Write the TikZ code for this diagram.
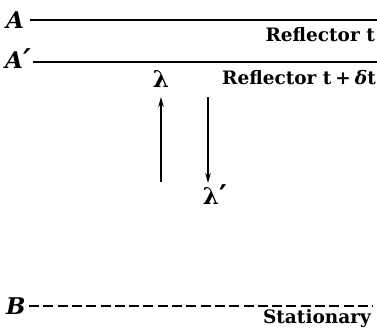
\documentclass[tikz,border=0pt]{standalone}
\usepackage{fontspec}
\setmainfont{DejaVu Serif}
\usetikzlibrary{arrows.meta}
\tikzset{
  lbl/.style={inner sep=0pt, font=\bfseries\fontsize{18.5}{18.5}\selectfont},
  ptlbl/.style={inner sep=0pt, font=\bfseries\itshape\fontsize{23}{23}\selectfont},
  lam/.style={inner sep=0pt, font=\bfseries\fontsize{23}{23}\selectfont},
  refl/.style={line width=1.4pt},
  wave/.style={line width=1.4pt, -{Stealth[length=10pt,width=5.5pt]}},
}
\newcommand{\bigprime}{{\fontsize{30}{30}\selectfont\raisebox{-2pt}{′}}}
\begin{document}
\begin{tikzpicture}[x=1pt,y=-1pt]
\useasboundingbox (0,0) rectangle (377,327);
% labels of the lines
\node[ptlbl, anchor=base west] (A) at (6,28) {A};
\node[ptlbl, anchor=base west] (Ap) at (5,68) {A\bigprime};
\node[ptlbl, anchor=base west] (B) at (6,314) {B};
\coordinate (Aend) at (377,20);
\coordinate (Apend) at (377,62);
\coordinate (Bend) at (373,306);
\draw[refl] (30,20) -- (Aend);
\draw[refl] (33,62) -- (Apend);
\draw[line width=1.4pt, dash pattern=on 10pt off 4.3pt] (29,306) -- (Bend);
% reflector labels
\node[lbl, anchor=base east] (rt) at (375,41) {Reflector t};
\node[lbl, anchor=base east] (rdt) at (376,84) {Reflector t\hspace{4pt}+\hspace{4pt}{\itshape δ}t};
\node[lbl, anchor=base east] (st) at (371,323) {Stationary};
% wavelengths
\node[lam] (l1) at (161,79) {λ};
\node[lam] (l2) at (215,196) {λ\bigprime};
\coordinate (u0) at (161,182);
\coordinate (u1) at (161,97);
\coordinate (d0) at (208,97);
\coordinate (d1) at (208,183);
\draw[wave] (u0) -- (u1);
\draw[wave] (d0) -- (d1);
\end{tikzpicture}
\end{document}
